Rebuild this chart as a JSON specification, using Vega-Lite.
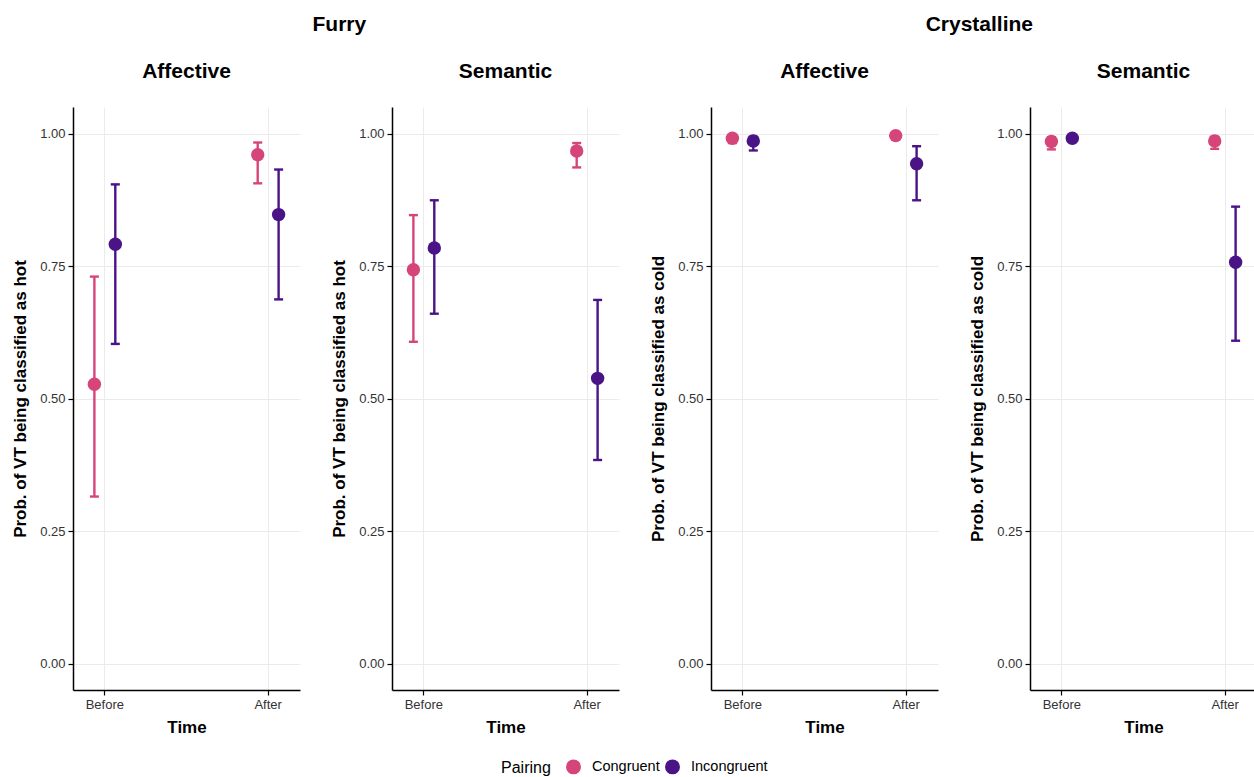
{
  "$schema": "https://vega.github.io/schema/vega-lite/v6.json",
  "padding": {"left": 11, "top": 14, "right": 0, "bottom": 0},
  "background": "white",
  "config": {
    "font": "Liberation Sans",
    "view": {"stroke": null},
    "axis": {
      "domainColor": "black", "domainWidth": 1.5,
      "tickColor": "black", "tickWidth": 1.2, "tickSize": 5,
      "labelColor": "#333333", "labelFontSize": 13, "labelFont": "Liberation Sans",
      "titleFontSize": 17, "titleFontWeight": "bold", "titleColor": "black", "titleFont": "Liberation Sans",
      "gridColor": "#ebebeb", "gridWidth": 1
    },
    "axisY": {"titlePadding": 10, "labelPadding": 3},
    "axisX": {"titlePadding": 8, "labelPadding": 3},
    "title": {"fontSize": 21, "fontWeight": "bold", "color": "black", "anchor": "middle", "font": "Liberation Sans"},
    "legend": {
      "orient": "bottom", "direction": "horizontal", "titleOrient": "left",
      "titleFontSize": 16, "titleFontWeight": "normal", "titleColor": "black",
      "labelFontSize": 14.5, "labelColor": "black", "symbolSize": 180, "symbolType": "circle", "symbolOpacity": 1,
      "labelOffset": 11, "columnPadding": 2, "titlePadding": 15, "offset": 24,
      "layout": {"bottom": {"anchor": "middle"}}
    }
  },
  "data": {"values": [
    {"Material": "Furry", "Task": "Affective", "Time": "Before", "Pairing": "Congruent", "Prob": 0.527, "Lo": 0.315, "Hi": 0.730},
    {"Material": "Furry", "Task": "Affective", "Time": "Before", "Pairing": "Incongruent", "Prob": 0.791, "Lo": 0.603, "Hi": 0.904},
    {"Material": "Furry", "Task": "Affective", "Time": "After", "Pairing": "Congruent", "Prob": 0.960, "Lo": 0.906, "Hi": 0.983},
    {"Material": "Furry", "Task": "Affective", "Time": "After", "Pairing": "Incongruent", "Prob": 0.847, "Lo": 0.687, "Hi": 0.932},
    {"Material": "Furry", "Task": "Semantic", "Time": "Before", "Pairing": "Congruent", "Prob": 0.743, "Lo": 0.607, "Hi": 0.846},
    {"Material": "Furry", "Task": "Semantic", "Time": "Before", "Pairing": "Incongruent", "Prob": 0.784, "Lo": 0.660, "Hi": 0.874},
    {"Material": "Furry", "Task": "Semantic", "Time": "After", "Pairing": "Congruent", "Prob": 0.967, "Lo": 0.936, "Hi": 0.982},
    {"Material": "Furry", "Task": "Semantic", "Time": "After", "Pairing": "Incongruent", "Prob": 0.538, "Lo": 0.384, "Hi": 0.686},
    {"Material": "Crystalline", "Task": "Affective", "Time": "Before", "Pairing": "Congruent", "Prob": 0.991, "Lo": 0.982, "Hi": 0.996},
    {"Material": "Crystalline", "Task": "Affective", "Time": "Before", "Pairing": "Incongruent", "Prob": 0.986, "Lo": 0.968, "Hi": 0.994},
    {"Material": "Crystalline", "Task": "Affective", "Time": "After", "Pairing": "Congruent", "Prob": 0.996, "Lo": 0.990, "Hi": 0.998},
    {"Material": "Crystalline", "Task": "Affective", "Time": "After", "Pairing": "Incongruent", "Prob": 0.943, "Lo": 0.874, "Hi": 0.976},
    {"Material": "Crystalline", "Task": "Semantic", "Time": "Before", "Pairing": "Congruent", "Prob": 0.985, "Lo": 0.970, "Hi": 0.993},
    {"Material": "Crystalline", "Task": "Semantic", "Time": "Before", "Pairing": "Incongruent", "Prob": 0.991, "Lo": 0.984, "Hi": 0.996},
    {"Material": "Crystalline", "Task": "Semantic", "Time": "After", "Pairing": "Congruent", "Prob": 0.986, "Lo": 0.971, "Hi": 0.994},
    {"Material": "Crystalline", "Task": "Semantic", "Time": "After", "Pairing": "Incongruent", "Prob": 0.757, "Lo": 0.609, "Hi": 0.862}
  ]},
  "spacing": 30,
  "hconcat": [
    {
      "title": {"text": "Furry", "offset": 26, "dx": 24},
      "spacing": 30,
      "hconcat": [
        {
          "title": {"text": "Affective", "offset": 25},
          "width": 227, "height": 583,
          "transform": [{"filter": "datum.Material === 'Furry' && datum.Task === 'Affective'"}],
          "encoding": {
            "x": {"field": "Time", "type": "nominal", "sort": ["Before", "After"], "title": "Time", "scale": {"paddingInner": 0.744, "paddingOuter": 0.067}, "axis": {"labelAngle": 0, "grid": true, "bandPosition": 0.5}},
            "xOffset": {"field": "Pairing", "type": "nominal", "sort": ["Congruent", "Incongruent"], "scale": {"paddingInner": 0, "paddingOuter": 0}},
            "color": {"field": "Pairing", "type": "nominal", "scale": {"domain": ["Congruent", "Incongruent"], "range": ["#D6457A", "#4A1486"]}}
          },
          "layer": [
            {"mark": {"type": "rule", "strokeWidth": 2.4, "opacity": 1}, "encoding": {"y": {"field": "Lo", "type": "quantitative", "title": "Prob. of VT being classified as hot", "scale": {"domain": [-0.05, 1.05], "nice": false, "zero": false}, "axis": {"values": [0, 0.25, 0.5, 0.75, 1], "format": ".2f", "grid": true}}, "y2": {"field": "Hi"}}},
            {"mark": {"type": "tick", "size": 9, "thickness": 2.4, "opacity": 1}, "encoding": {"y": {"field": "Lo", "type": "quantitative", "title": "Prob. of VT being classified as hot"}}},
            {"mark": {"type": "tick", "size": 9, "thickness": 2.4, "opacity": 1}, "encoding": {"y": {"field": "Hi", "type": "quantitative", "title": "Prob. of VT being classified as hot"}}},
            {"mark": {"type": "point", "filled": true, "opacity": 1, "size": 180}, "encoding": {"y": {"field": "Prob", "type": "quantitative", "title": "Prob. of VT being classified as hot"}}}
          ]
        },
        {
          "title": {"text": "Semantic", "offset": 25},
          "width": 227, "height": 583,
          "transform": [{"filter": "datum.Material === 'Furry' && datum.Task === 'Semantic'"}],
          "encoding": {
            "x": {"field": "Time", "type": "nominal", "sort": ["Before", "After"], "title": "Time", "scale": {"paddingInner": 0.744, "paddingOuter": 0.067}, "axis": {"labelAngle": 0, "grid": true, "bandPosition": 0.5}},
            "xOffset": {"field": "Pairing", "type": "nominal", "sort": ["Congruent", "Incongruent"], "scale": {"paddingInner": 0, "paddingOuter": 0}},
            "color": {"field": "Pairing", "type": "nominal", "scale": {"domain": ["Congruent", "Incongruent"], "range": ["#D6457A", "#4A1486"]}}
          },
          "layer": [
            {"mark": {"type": "rule", "strokeWidth": 2.4, "opacity": 1}, "encoding": {"y": {"field": "Lo", "type": "quantitative", "title": "Prob. of VT being classified as hot", "scale": {"domain": [-0.05, 1.05], "nice": false, "zero": false}, "axis": {"values": [0, 0.25, 0.5, 0.75, 1], "format": ".2f", "grid": true}}, "y2": {"field": "Hi"}}},
            {"mark": {"type": "tick", "size": 9, "thickness": 2.4, "opacity": 1}, "encoding": {"y": {"field": "Lo", "type": "quantitative", "title": "Prob. of VT being classified as hot"}}},
            {"mark": {"type": "tick", "size": 9, "thickness": 2.4, "opacity": 1}, "encoding": {"y": {"field": "Hi", "type": "quantitative", "title": "Prob. of VT being classified as hot"}}},
            {"mark": {"type": "point", "filled": true, "opacity": 1, "size": 180}, "encoding": {"y": {"field": "Prob", "type": "quantitative", "title": "Prob. of VT being classified as hot"}}}
          ]
        }
      ]
    },
    {
      "title": {"text": "Crystalline", "offset": 26, "dx": 26},
      "spacing": 30,
      "hconcat": [
        {
          "title": {"text": "Affective", "offset": 25},
          "width": 227, "height": 583,
          "transform": [{"filter": "datum.Material === 'Crystalline' && datum.Task === 'Affective'"}],
          "encoding": {
            "x": {"field": "Time", "type": "nominal", "sort": ["Before", "After"], "title": "Time", "scale": {"paddingInner": 0.744, "paddingOuter": 0.067}, "axis": {"labelAngle": 0, "grid": true, "bandPosition": 0.5}},
            "xOffset": {"field": "Pairing", "type": "nominal", "sort": ["Congruent", "Incongruent"], "scale": {"paddingInner": 0, "paddingOuter": 0}},
            "color": {"field": "Pairing", "type": "nominal", "scale": {"domain": ["Congruent", "Incongruent"], "range": ["#D6457A", "#4A1486"]}}
          },
          "layer": [
            {"mark": {"type": "rule", "strokeWidth": 2.4, "opacity": 1}, "encoding": {"y": {"field": "Lo", "type": "quantitative", "title": "Prob. of VT being classified as cold", "scale": {"domain": [-0.05, 1.05], "nice": false, "zero": false}, "axis": {"values": [0, 0.25, 0.5, 0.75, 1], "format": ".2f", "grid": true}}, "y2": {"field": "Hi"}}},
            {"mark": {"type": "tick", "size": 9, "thickness": 2.4, "opacity": 1}, "encoding": {"y": {"field": "Lo", "type": "quantitative", "title": "Prob. of VT being classified as cold"}}},
            {"mark": {"type": "tick", "size": 9, "thickness": 2.4, "opacity": 1}, "encoding": {"y": {"field": "Hi", "type": "quantitative", "title": "Prob. of VT being classified as cold"}}},
            {"mark": {"type": "point", "filled": true, "opacity": 1, "size": 180}, "encoding": {"y": {"field": "Prob", "type": "quantitative", "title": "Prob. of VT being classified as cold"}}}
          ]
        },
        {
          "title": {"text": "Semantic", "offset": 25},
          "width": 227, "height": 583,
          "transform": [{"filter": "datum.Material === 'Crystalline' && datum.Task === 'Semantic'"}],
          "encoding": {
            "x": {"field": "Time", "type": "nominal", "sort": ["Before", "After"], "title": "Time", "scale": {"paddingInner": 0.744, "paddingOuter": 0.067}, "axis": {"labelAngle": 0, "grid": true, "bandPosition": 0.5}},
            "xOffset": {"field": "Pairing", "type": "nominal", "sort": ["Congruent", "Incongruent"], "scale": {"paddingInner": 0, "paddingOuter": 0}},
            "color": {"field": "Pairing", "type": "nominal", "scale": {"domain": ["Congruent", "Incongruent"], "range": ["#D6457A", "#4A1486"]}}
          },
          "layer": [
            {"mark": {"type": "rule", "strokeWidth": 2.4, "opacity": 1}, "encoding": {"y": {"field": "Lo", "type": "quantitative", "title": "Prob. of VT being classified as cold", "scale": {"domain": [-0.05, 1.05], "nice": false, "zero": false}, "axis": {"values": [0, 0.25, 0.5, 0.75, 1], "format": ".2f", "grid": true}}, "y2": {"field": "Hi"}}},
            {"mark": {"type": "tick", "size": 9, "thickness": 2.4, "opacity": 1}, "encoding": {"y": {"field": "Lo", "type": "quantitative", "title": "Prob. of VT being classified as cold"}}},
            {"mark": {"type": "tick", "size": 9, "thickness": 2.4, "opacity": 1}, "encoding": {"y": {"field": "Hi", "type": "quantitative", "title": "Prob. of VT being classified as cold"}}},
            {"mark": {"type": "point", "filled": true, "opacity": 1, "size": 180}, "encoding": {"y": {"field": "Prob", "type": "quantitative", "title": "Prob. of VT being classified as cold"}}}
          ]
        }
      ]
    }
  ]
}
